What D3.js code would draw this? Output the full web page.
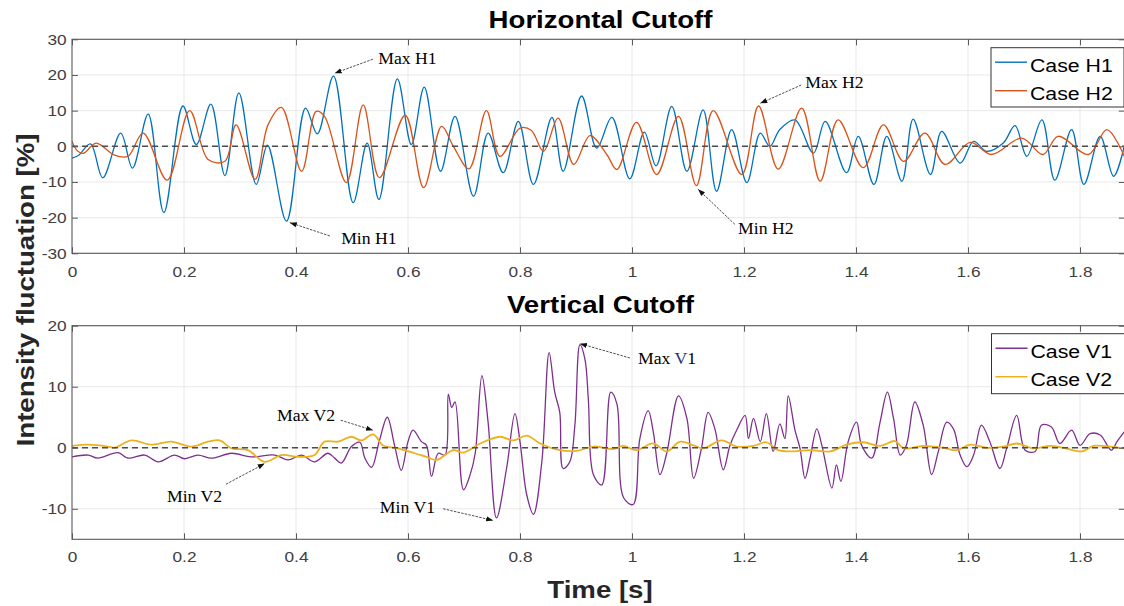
<!DOCTYPE html>
<html><head><meta charset="utf-8">
<script src="https://cdn.jsdelivr.net/npm/d3@7"></script>
<style>body{margin:0;background:#fff} svg{display:block}</style>
</head><body><svg id="c" width="1124" height="606"></svg>
<script>
// ---------- data ----------
const xTicks = [0, 0.2, 0.4, 0.6, 0.8, 1, 1.2, 1.4, 1.6, 1.8];
const topYTicks = [-30, -20, -10, 0, 10, 20, 30];
const botYTicks = [-10, 0, 10, 20];

const h1T = [0,0.012,0.033,0.055,0.087,0.108,0.136,0.164,0.198,0.222,0.248,0.273,0.298,0.329,0.349,0.383,0.417,0.438,0.467,0.502,0.527,0.548,0.581,0.606,0.629,0.658,0.684,0.717,0.743,0.770,0.797,0.824,0.857,0.877,0.910,0.937,0.964,0.996,1.022,1.043,1.071,1.098,1.127,1.151,1.178,1.205,1.229,1.246,1.264,1.291,1.324,1.345,1.383,1.404,1.432,1.455,1.482,1.502,1.533,1.553,1.586,1.610,1.633,1.663,1.684,1.705,1.732,1.755,1.785,1.807,1.836,1.860,1.879];
const h1V = [-3.3,-2.5,0.7,-8.8,3.7,-6.1,9.0,-18.6,11.3,0.5,11.8,-8.2,15.0,-10.7,0.3,-21.0,10.7,3.5,19.7,-15.8,0.9,-14.9,18.9,0.5,16.6,-7.0,8.4,-14.0,3.7,-7.4,7.0,-10.7,8.1,-7.0,14.1,-0.5,8.1,-9.1,4,-5.5,11.2,-7.0,10.2,-12.6,4.7,-10.2,3.7,0,4.7,7.4,-1.9,7.0,-7.4,2.8,-10.7,2.8,-9.8,7.6,-7.9,4.2,-4.7,1.4,-1.4,0.9,5.8,-2.8,7.4,-9.5,4.7,-10.7,2.8,-8.4,0];

const h2T = [0,0.008,0.020,0.043,0.076,0.100,0.127,0.170,0.210,0.243,0.273,0.293,0.327,0.350,0.374,0.410,0.436,0.451,0.490,0.520,0.549,0.595,0.628,0.660,0.681,0.709,0.740,0.764,0.800,0.820,0.842,0.868,0.896,0.925,0.955,0.973,1.008,1.044,1.083,1.115,1.145,1.196,1.226,1.261,1.303,1.336,1.368,1.413,1.449,1.485,1.523,1.559,1.604,1.642,1.696,1.734,1.761,1.815,1.848,1.879];
const h2V = [1.4,-1.0,-2.0,0.9,-2.5,-2.8,3.7,-9.5,10.0,-3.7,-4.2,6.0,-9.3,6.0,10.9,-7.0,9.8,8.4,-10.2,11.6,-8.8,8.7,-11.6,5.6,0,-6.3,10.0,-2.8,5.1,4.5,-1.4,7.9,-5.1,3.0,-2.3,-6.5,6.7,-7.9,8.4,-11.0,10.0,-7.9,11.3,-6.4,10.7,-9.8,7.4,-6.0,6.0,-4.2,3.7,-5.1,1.1,-2.3,2.3,-2.3,2.8,-2.3,4.7,-2.8];

const v1T = [0,0.029,0.046,0.082,0.100,0.130,0.154,0.183,0.201,0.225,0.249,0.285,0.320,0.362,0.386,0.410,0.433,0.457,0.469,0.481,0.499,0.514,0.523,0.535,0.549,0.563,0.576,0.588,0.600,0.609,0.624,0.633,0.642,0.654,0.666,0.672,0.678,0.684,0.699,0.711,0.720,0.732,0.743,0.758,0.776,0.791,0.800,0.812,0.824,0.839,0.852,0.862,0.871,0.877,0.889,0.898,0.907,0.916,0.922,0.931,0.946,0.962,0.973,0.985,1.002,1.014,1.029,1.038,1.050,1.062,1.083,1.098,1.110,1.124,1.136,1.148,1.163,1.175,1.187,1.202,1.208,1.217,1.229,1.240,1.252,1.264,1.273,1.279,1.291,1.300,1.309,1.318,1.330,1.339,1.357,1.365,1.373,1.386,1.401,1.410,1.428,1.443,1.456,1.467,1.479,1.490,1.505,1.520,1.535,1.547,1.562,1.574,1.586,1.598,1.610,1.624,1.639,1.657,1.669,1.687,1.702,1.720,1.731,1.749,1.764,1.785,1.800,1.818,1.836,1.856,1.866,1.879];
const v1V = [-1.5,-1.2,-1.7,-0.8,-1.7,-1.2,-2.3,-1.2,-1.8,-1.2,-1.7,-0.9,-1.5,-1.2,-2.0,-1.2,-2.3,-0.9,-1.7,-2.5,0.2,0.9,-1.7,-3.2,1.2,5.0,0.4,-3.7,1.0,2.9,1.0,0.4,-4.7,-0.9,-1.2,8.8,6.6,7.5,-6.9,-4.4,-0.9,11.8,4.2,-11.5,-3.4,5.6,1.0,-7.7,-10.9,-2.3,15.6,9.1,5.8,-3.4,-2.3,3.7,16.9,14.5,8.0,-4.4,-6.1,9.1,7.2,-8.2,-9.3,1.5,6.1,2.6,-4.4,-0.9,8.5,4.8,-5.0,-0.1,5.8,3.1,-3.6,0.4,2.9,5.3,1.5,4.8,1.0,5.6,-0.6,3.9,1.5,8.5,2.9,-0.1,-5.0,-1.7,3.1,0.4,-6.6,-2.8,-5.5,1.0,4.2,0.4,-1.7,4.2,9.1,4.8,-1.2,0.4,7.5,3.7,-4.4,-0.6,4.2,3.1,-1.2,-3.1,-1.2,3.7,1.0,-3.4,-0.1,5.3,-0.4,-0.6,3.7,3.4,0.7,2.9,0.4,2.3,2.1,-0.4,1.0,2.6];

const v2T = [0,0.029,0.064,0.076,0.106,0.142,0.177,0.213,0.243,0.264,0.285,0.314,0.344,0.374,0.404,0.433,0.451,0.475,0.499,0.517,0.538,0.555,0.582,0.612,0.633,0.651,0.681,0.699,0.729,0.764,0.788,0.812,0.836,0.871,0.901,0.931,0.967,0.984,1.008,1.038,1.062,1.086,1.110,1.127,1.160,1.187,1.217,1.240,1.261,1.282,1.318,1.354,1.383,1.413,1.443,1.470,1.485,1.520,1.556,1.580,1.604,1.633,1.663,1.687,1.717,1.746,1.770,1.803,1.824,1.854,1.879];
const v2V = [0.3,0.5,0.2,0,1.2,0.5,1.0,0.2,1.0,1.2,-0.1,-0.4,-2.3,-1.2,-1.5,-1.2,1.0,1.0,1.8,1.2,2.2,0.4,-0.1,-0.9,-1.5,-2.0,-0.4,-0.8,0.7,1.8,1.2,2.0,0.7,-0.4,-0.5,0.2,-0.2,0.3,-0.4,0.7,-0.6,1.0,0.4,-0.1,1.2,0.2,0.3,0.9,-0.4,-0.6,-0.4,-0.6,0.5,0.9,0.3,1.1,-0.1,0.3,0,-0.4,0.5,0,0.2,0.7,-0.1,0.3,0,-0.6,0.3,0.2,-0.1];

const annLabels = ['Max H1','Min H1','Max H2','Min H2','Max V1','Min V1','Max V2','Min V2'];
const annPanel  = [0,0,0,0,1,1,1,1];
const annT = [0.469,0.389,1.229,1.118,0.907,0.752,0.5375,0.344];
const annV = [20.5,-21.4,12.05,-12.05,17.06,-11.9,2.87,-2.6];

// ---------- layout / style ----------
const SANS = "'Liberation Sans', Arial, Helvetica, sans-serif";
const SERIF = "'Liberation Serif', 'Times New Roman', serif";
const SX = 1.15;
const AX = '#595959';
const svg = d3.select('#c');
svg.append('rect').attr('width',1124).attr('height',606).attr('fill','#fff');
const defs = svg.append('defs');
defs.append('marker').attr('id','arr').attr('viewBox','0 0 10 10').attr('refX',10).attr('refY',5)
  .attr('markerWidth',7).attr('markerHeight',7).attr('markerUnits','userSpaceOnUse').attr('orient','auto')
  .append('path').attr('d','M0,1.2 L10,5 L0,8.8 Z').attr('fill','#111');

const x = d3.scaleLinear().domain([0, 1.88]).range([72, 72 + 560 * 1.88]);
const [X0, X1] = x.range();

const panels = [
  {id:0, top:39.3, bottom:253.3, yDom:[-30,30], yTicks:topYTicks, xPad:13, title:'Horizontal Cutoff', titleY:28,
   series:[{t:h1T,v:h1V,color:'#0072BD',name:'Case H1',w:1.3},{t:h2T,v:h2V,color:'#D95319',name:'Case H2',w:1.3}],
   leg:{x:991, y:47.7, w:133, h:59.3}},
  {id:1, top:325.7, bottom:539.3, yDom:[-15,20], yTicks:botYTicks, xPad:12, title:'Vertical Cutoff', titleY:313,
   series:[{t:v1T,v:v1V,color:'#7E2F8E',name:'Case V1',w:1.3},{t:v2T,v:v2V,color:'#EDB120',name:'Case V2',w:1.8}],
   leg:{x:991.5, y:333.7, w:133, h:60}}
];

const fmt = d => String(d);

panels.forEach(p => {
  const y = d3.scaleLinear().domain(p.yDom).range([p.bottom, p.top]);
  p.y = y;
  const g = svg.append('g');
  // grid
  g.append('g').selectAll('line').data(xTicks.filter(d => d > 0)).join('line')
    .attr('x1', d => x(d)).attr('x2', d => x(d)).attr('y1', p.top).attr('y2', p.bottom)
    .attr('stroke', '#e8e8e8').attr('stroke-width', 1);
  g.append('g').selectAll('line').data(p.yTicks).join('line')
    .attr('x1', X0).attr('x2', X1).attr('y1', d => y(d)).attr('y2', d => y(d))
    .attr('stroke', '#e8e8e8').attr('stroke-width', 1);
  // clip
  const cid = 'clip' + p.id;
  defs.append('clipPath').attr('id', cid).append('rect')
    .attr('x', X0).attr('y', p.top).attr('width', X1 - X0).attr('height', p.bottom - p.top);
  const line = d3.line().x(d => x(d[0])).y(d => y(d[1])).curve(d3.curveCatmullRom.alpha(0.5));
  p.series.forEach(s => {
    g.append('path').datum(d3.zip(s.t, s.v)).attr('d', line)
      .attr('fill', 'none').attr('stroke', s.color).attr('stroke-width', s.w)
      .attr('stroke-linejoin', 'round').attr('clip-path', `url(#${cid})`);
  });
  // zero dashed line
  g.append('line').attr('x1', X0).attr('x2', X1).attr('y1', y(0)).attr('y2', y(0))
    .attr('stroke', '#4d4d4d').attr('stroke-width', 1.5).attr('stroke-dasharray', '6,4');
  // frame
  g.append('rect').attr('x', X0).attr('y', p.top).attr('width', X1 - X0).attr('height', p.bottom - p.top)
    .attr('fill', 'none').attr('stroke', AX).attr('stroke-width', 1.1);
  // axes
  const styleAxis = sel => {
    sel.select('.domain').remove();
    sel.selectAll('line').attr('stroke', AX);
    sel.selectAll('text').attr('font-family', SANS).attr('font-size', 15).attr('fill', '#404040')
      .attr('transform', `scale(${SX},1)`);
  };
  g.append('g').attr('transform', `translate(0,${p.bottom})`)
    .call(d3.axisBottom(x).tickValues(xTicks).tickSizeInner(-6).tickSizeOuter(0).tickPadding(p.xPad).tickFormat(fmt))
    .call(styleAxis);
  g.append('g').attr('transform', `translate(0,${p.top})`)
    .call(d3.axisTop(x).tickValues(xTicks).tickSizeInner(-6).tickSizeOuter(0).tickFormat(''))
    .call(styleAxis);
  g.append('g').attr('transform', `translate(${X0},0)`)
    .call(d3.axisLeft(y).tickValues(p.yTicks).tickSizeInner(-6).tickSizeOuter(0).tickPadding(4.6).tickFormat(fmt))
    .call(styleAxis);
  g.append('g').attr('transform', `translate(${X1},0)`)
    .call(d3.axisRight(y).tickValues(p.yTicks).tickSizeInner(-6).tickSizeOuter(0).tickFormat(''))
    .call(styleAxis);
  // title
  svg.append('text').attr('transform', `translate(600.5,${p.titleY}) scale(${SX},1)`)
    .attr('text-anchor', 'middle').attr('font-family', SANS).attr('font-weight', 'bold')
    .attr('font-size', 24).attr('fill', '#000').text(p.title);
  // legend
  const lg = svg.append('g').attr('transform', `translate(${p.leg.x},${p.leg.y})`);
  lg.append('rect').attr('width', p.leg.w).attr('height', p.leg.h).attr('fill', '#fff')
    .attr('stroke', '#333').attr('stroke-width', 1);
  p.series.forEach((s, i) => {
    const ly = 14.5 + i * 28.5;
    lg.append('line').attr('x1', 4).attr('x2', 36).attr('y1', ly).attr('y2', ly)
      .attr('stroke', s.color).attr('stroke-width', 1.4);
    lg.append('text').attr('transform', `translate(39,${ly + 9.3}) scale(${SX},1)`)
      .attr('font-family', SANS).attr('font-size', 18.5).attr('fill', '#000').text(s.name);
  });
});

// axis labels
svg.append('text').attr('transform', `translate(34,290) rotate(-90) scale(${SX},1)`)
  .attr('text-anchor', 'middle').attr('font-family', SANS).attr('font-weight', 'bold')
  .attr('font-size', 24).attr('fill', '#262626').text('Intensity fluctuation [%]');
svg.append('text').attr('transform', `translate(600,598) scale(${SX},1)`)
  .attr('text-anchor', 'middle').attr('font-family', SANS).attr('font-weight', 'bold')
  .attr('font-size', 24).attr('fill', '#262626').text('Time [s]');

// annotations (arrow start / text offsets relative to the data target, in px)
const annArrow = [[38.3,-14],[40,13.3],[41,-18.3],[36.7,35],[50,14.3],[-50,-11.6],[-32.3,-10],[-38.7,20.6]];
const annText  = [[43.6,-9],[51.3,21.6],[45,-15.8],[40,45],[58,20],[-113.3,-7.3],[-96,-9],[-97.7,38.3]];
const ag = svg.append('g');
annLabels.forEach((lab, i) => {
  const p = panels[annPanel[i]];
  const tx = x(annT[i]), ty = p.y(annV[i]);
  ag.append('line').attr('x1', tx + annArrow[i][0]).attr('y1', ty + annArrow[i][1])
    .attr('x2', tx).attr('y2', ty).attr('stroke', '#222').attr('stroke-width', 0.8)
    .attr('stroke-dasharray', '2.5,1.2').attr('marker-end', 'url(#arr)');
  const t = ag.append('text').attr('x', tx + annText[i][0]).attr('y', ty + annText[i][1])
    .attr('font-family', SERIF).attr('font-size', 17.7).attr('fill', '#000');
  if (lab === 'Max V1') {
    t.append('tspan').text('Max ');
    t.append('tspan').attr('fill', '#1f3a7a').text('V');
    t.append('tspan').text('1');
  } else t.text(lab);
});
</script>
</body></html>
